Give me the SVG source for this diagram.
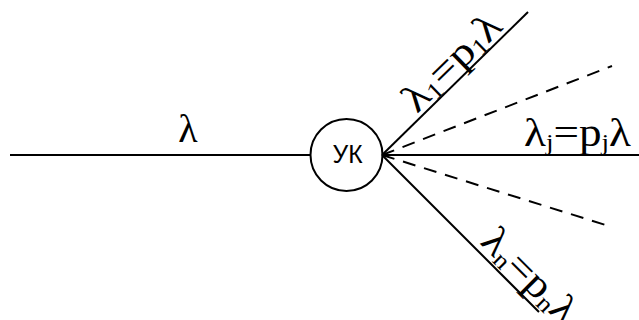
<svg xmlns="http://www.w3.org/2000/svg" width="639" height="320" viewBox="0 0 639 320">
  <style>
    .ln { stroke: #000; stroke-width: 2; fill: none; }
    .dash { stroke-dasharray: 13 9; }
    .lbl { font-family: "Liberation Serif", "Times New Roman", serif; font-size: 40px; fill: #000; }
    .sub { font-size: 24px; }
    .node { font-family: "Liberation Sans", Arial, sans-serif; font-size: 25px; fill: #000; }
  </style>
  <rect width="639" height="320" fill="#fff"/>
  <g id="connectors">
    <line class="ln" x1="10" y1="155" x2="310" y2="155"/>
    <line class="ln" x1="382" y1="155" x2="528" y2="12"/>
    <line class="ln dash" x1="382" y1="155" x2="612" y2="66"/>
    <line class="ln" x1="382" y1="155" x2="639" y2="155"/>
    <line class="ln dash" x1="382" y1="155" x2="612" y2="227"/>
    <line class="ln" x1="382" y1="155" x2="539" y2="312"/>
  </g>
  <g id="labels">
    <text class="lbl" x="188" y="142" text-anchor="middle" font-size="36">λ</text>
    <text class="lbl" x="524" y="146" textLength="107" lengthAdjust="spacingAndGlyphs">λ<tspan class="sub" dy="4">j</tspan><tspan dy="-4">=p</tspan><tspan class="sub" dy="4">j</tspan><tspan dy="-4">λ</tspan></text>
    <text class="lbl" transform="translate(417,114) rotate(-44.4)" textLength="122" lengthAdjust="spacingAndGlyphs">λ<tspan class="sub" dy="4">1</tspan><tspan dy="-4">=p</tspan><tspan class="sub" dy="4">1</tspan><tspan dy="-4">λ</tspan></text>
    <text class="lbl" transform="translate(479,243) rotate(45)" textLength="118" lengthAdjust="spacingAndGlyphs">λ<tspan class="sub" dy="4">n</tspan><tspan dy="-4">=p</tspan><tspan class="sub" dy="4">n</tspan><tspan dy="-4">λ</tspan></text>
  </g>
  <g id="node-uk">
    <circle class="ln" cx="346.5" cy="155" r="36"/>
    <text class="node" x="347.5" y="163" text-anchor="middle" textLength="30" lengthAdjust="spacingAndGlyphs">УК</text>
  </g>
</svg>
